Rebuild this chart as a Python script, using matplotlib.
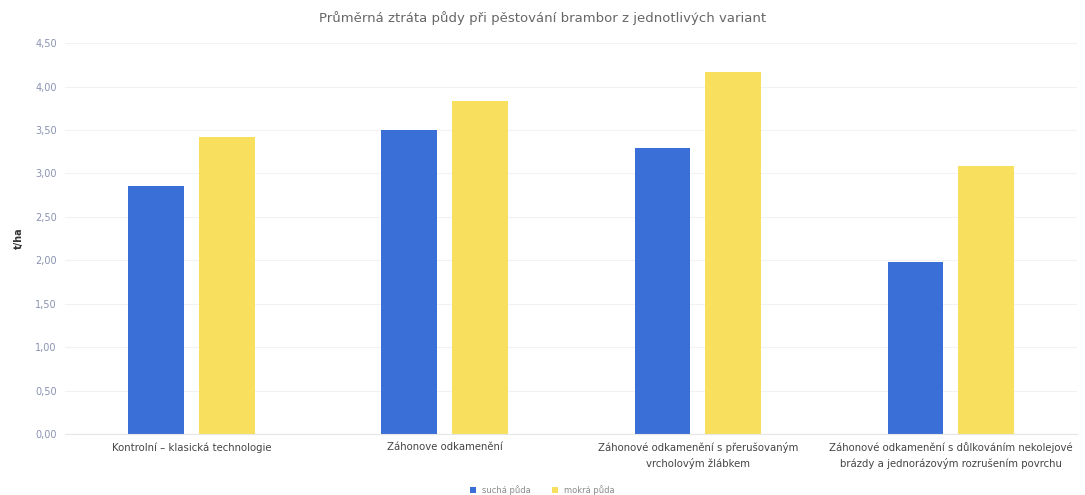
import matplotlib.pyplot as plt
import numpy as np

categories = ["Kontrolní – klasická technologie",
              "Záhonove odkamenění",
              "Záhonové odkamenění s přerušovaným\nvrcholovým žlábkem",
              "Záhonové odkamenění s důlkováním nekolejové\nbrázdy a jednorázovým rozrušením povrchu"]
sucha = [2.85, 3.50, 3.29, 1.98]
mokra = [3.42, 3.83, 4.17, 3.08]
yticks = [0, 0.5, 1.0, 1.5, 2.0, 2.5, 3.0, 3.5, 4.0, 4.5]

fig = plt.figure(figsize=(10.85, 4.95), dpi=100)
ax = fig.add_axes([0.06, 0.123, 0.933, 0.79])

x = np.arange(len(categories))
w = 0.22
ax.bar(x - 0.14, sucha, w, color="#3a6fd8", label="suchá půda")
ax.bar(x + 0.14, mokra, w, color="#f8df5e", label="mokrá půda")

ax.set_xlim(-0.5, len(categories) - 0.5)
ax.set_ylim(0, 4.5)
ax.set_yticks(yticks)
ax.set_yticklabels([f"{v:.2f}".replace(".", ",") for v in yticks], color="#8a92b0", fontsize=7)
ax.set_xticks(x)
ax.set_xticklabels(categories, fontsize=7.3, color="#444444", linespacing=1.5)
ax.tick_params(length=0, pad=6)
ax.grid(axis="y", color="#f2f2f2", lw=0.8)
ax.set_axisbelow(True)
for s in ax.spines.values():
    s.set_visible(False)
ax.spines["bottom"].set_visible(True)
ax.spines["bottom"].set_color("#e6e6e6")

ax.set_ylabel("t/ha", fontsize=7, fontweight="bold", color="#333333", labelpad=8)
fig.suptitle("Průměrná ztráta půdy při pěstování brambor z jednotlivých variant",
             fontsize=9.5, color="#666666", y=0.978)
fig.legend(loc="lower center", ncol=2, frameon=False, fontsize=6, handlelength=0.7,
           handleheight=0.7, labelcolor="#8a8a8a", bbox_to_anchor=(0.5, -0.015),
           columnspacing=2.5)

plt.savefig("out.png")
